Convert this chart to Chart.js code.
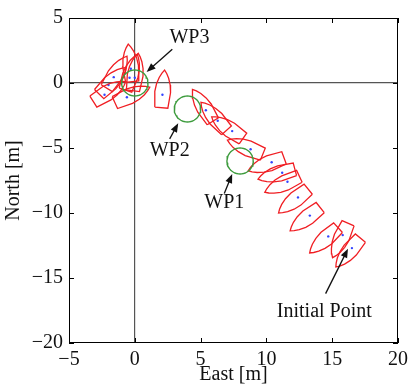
<!DOCTYPE html>
<html>
<head>
<meta charset="utf-8">
<script src="https://cdn.jsdelivr.net/npm/chart.js@4.4.1/dist/chart.umd.min.js"></script>
<style>
  html, body { margin: 0; padding: 0; background: #fff; }
  #wrap { width: 413px; height: 387px; }
</style>
</head>
<body>
<div id="wrap"><canvas id="chart" width="413" height="387"></canvas></div>
<script>
// boat poses (east, north in m, heading in deg from north)
const boatEast    = [16.5, 15.8, 14.7, 13.3, 12.4, 11.6, 11.2, 10.4, 8.8, 7.4, 6.3, 5.4, 2.1, -0.3, 0.0, -0.4, -1.6, -2.0, -2.3, -0.6];
const boatNorth   = [-12.7, -11.7, -11.8, -10.2, -8.8, -7.6, -6.9, -6.1, -5.1, -3.7, -2.9, -2.1, -0.9, 1.1, 0.4, 0.4, 0.45, -0.15, -0.9, -1.1];
const boatHeading = [220, 204, 228, 232, 231, 245, 255, 250, 292, 305, 318, 328, 5, 354, 8, 18, 32, 45, 58, 66];

// waypoints
const wpEast  = [8, 4, 0];
const wpNorth = [-6, -2, 0];
const wpRadius = 1;

// text annotations and arrows
const noteText  = ['WP1', 'WP2', 'WP3', 'Initial Point'];
const noteEast  = [6.8, 2.65, 4.15, 14.4];
const noteNorth = [-9.2, -5.2, 3.5, -17.6];
const arrowFrom = [[6.8, -8.5], [2.65, -4.3], [2.85, 2.6], [14.5, -16.2]];
const arrowTo   = [[7.4, -7.0], [3.3, -3.1], [0.9, 0.85], [16.2, -12.75]];

const xTicks = [-5, 0, 5, 10, 15, 20];
const yTicks = [-20, -15, -10, -5, 0, 5];

// hull outline in body frame (forward, starboard), metres
const hullFwd  = [-1.0, 0.2, 0.8, 1.3, 1.65, 1.9, 1.65, 1.3, 0.8, 0.2, -1.0, -1.0];
const hullStbd = [-0.5, -0.6, -0.52, -0.36, -0.18, 0, 0.18, 0.36, 0.52, 0.6, 0.5, -0.5];

const FONT = '"Liberation Serif", "DejaVu Serif", serif';
const red = '#f01e23';

function hull(i) {
  const p = boatHeading[i] * Math.PI / 180;
  return hullFwd.map((f, k) => {
    const s = hullStbd[k];
    return {
      x: boatEast[i] + f * Math.sin(p) + s * Math.cos(p),
      y: boatNorth[i] + f * Math.cos(p) - s * Math.sin(p)
    };
  });
}

function circle(i) {
  const pts = [];
  for (let k = 0; k <= 48; k++) {
    const a = k / 48 * 2 * Math.PI;
    pts.push({ x: wpEast[i] + wpRadius * Math.cos(a), y: wpNorth[i] + wpRadius * Math.sin(a) });
  }
  return pts;
}

const datasets = [];
wpEast.forEach((_, i) => datasets.push({
  data: circle(i), showLine: true, borderColor: '#3c9b3c', borderWidth: 1.4,
  pointRadius: 0, tension: 0, fill: false
}));
boatEast.forEach((_, i) => datasets.push({
  data: hull(i), showLine: true, borderColor: red, borderWidth: 1.3,
  pointRadius: 0, tension: 0, fill: false
}));
datasets.push({
  data: boatEast.map((e, i) => ({ x: e, y: boatNorth[i] })),
  showLine: false, pointRadius: 1.2, pointBackgroundColor: '#3344ff',
  pointBorderWidth: 0
});

const overlay = {
  id: 'overlay',
  afterDatasetsDraw(chart) {
    const { ctx, chartArea: a, scales: { x, y } } = chart;
    ctx.save();
    ctx.strokeStyle = '#000';
    ctx.lineWidth = 1;
    ctx.strokeRect(a.left + 0.5, a.top + 0.5, a.right - a.left - 1, a.bottom - a.top - 1);
    ctx.beginPath();
    xTicks.forEach(v => {
      const px = Math.round(x.getPixelForValue(v)) + 0.5;
      ctx.moveTo(px, a.bottom); ctx.lineTo(px, a.bottom - 5);
      ctx.moveTo(px, a.top); ctx.lineTo(px, a.top + 5);
    });
    yTicks.forEach(v => {
      const py = Math.round(y.getPixelForValue(v)) + 0.5;
      ctx.moveTo(a.left, py); ctx.lineTo(a.left + 5, py);
      ctx.moveTo(a.right, py); ctx.lineTo(a.right - 5, py);
    });
    ctx.stroke();

    // arrows
    ctx.fillStyle = '#111';
    ctx.strokeStyle = '#111';
    arrowFrom.forEach((f, i) => {
      const x0 = x.getPixelForValue(f[0]), y0 = y.getPixelForValue(f[1]);
      const x1 = x.getPixelForValue(arrowTo[i][0]), y1 = y.getPixelForValue(arrowTo[i][1]);
      const ang = Math.atan2(y1 - y0, x1 - x0);
      ctx.beginPath();
      ctx.lineWidth = 1.3;
      ctx.moveTo(x0, y0);
      ctx.lineTo(x1 - 6 * Math.cos(ang), y1 - 6 * Math.sin(ang));
      ctx.stroke();
      ctx.beginPath();
      ctx.moveTo(x1, y1);
      ctx.lineTo(x1 - 9 * Math.cos(ang) + 3.5 * Math.sin(ang), y1 - 9 * Math.sin(ang) - 3.5 * Math.cos(ang));
      ctx.lineTo(x1 - 9 * Math.cos(ang) - 3.5 * Math.sin(ang), y1 - 9 * Math.sin(ang) + 3.5 * Math.cos(ang));
      ctx.closePath();
      ctx.fill();
    });

    ctx.font = '20px ' + FONT;
    ctx.textAlign = 'center';
    ctx.textBaseline = 'middle';
    ctx.fillStyle = '#111';
    noteText.forEach((t, i) => {
      ctx.fillText(t, x.getPixelForValue(noteEast[i]), y.getPixelForValue(noteNorth[i]));
    });
    ctx.restore();
  }
};

const zeroLine = c => (c.tick && c.tick.value === 0 ? '#555' : 'rgba(0,0,0,0)');

new Chart(document.getElementById('chart'), {
  type: 'scatter',
  data: { datasets },
  options: {
    responsive: false,
    animation: false,
    layout: { padding: { left: 2, right: 13, top: 15, bottom: 0 } },
    plugins: { legend: { display: false }, tooltip: { enabled: false } },
    scales: {
      x: {
        type: 'linear', min: -5, max: 20,
        afterBuildTicks: s => { s.ticks = xTicks.map(v => ({ value: v })); },
        afterFit: s => { s.height = 44; },
        grid: { color: zeroLine, lineWidth: 1.2, drawTicks: false },
        border: { display: false },
        ticks: {
          padding: 5, color: '#111', font: { family: FONT, size: 20 },
          maxRotation: 0,
          callback: v => String(v).replace('-', '\u2212')
        },
        title: {
          display: true, text: 'East [m]', color: '#111',
          font: { family: FONT, size: 20 }, padding: { top: -4, bottom: 0 }
        }
      },
      y: {
        type: 'linear', min: -20, max: 5,
        afterBuildTicks: s => { s.ticks = yTicks.map(v => ({ value: v })); },
        afterFit: s => { s.width = 67; },
        grid: { color: zeroLine, lineWidth: 1.2, drawTicks: false },
        border: { display: false },
        ticks: {
          padding: 6, color: '#111', font: { family: FONT, size: 20 },
          callback: v => String(v).replace('-', '\u2212')
        },
        title: {
          display: true, text: 'North [m]', color: '#111',
          font: { family: FONT, size: 20 }, padding: { top: 0, bottom: 0 }
        }
      }
    }
  },
  plugins: [overlay]
});
</script>
</body>
</html>
